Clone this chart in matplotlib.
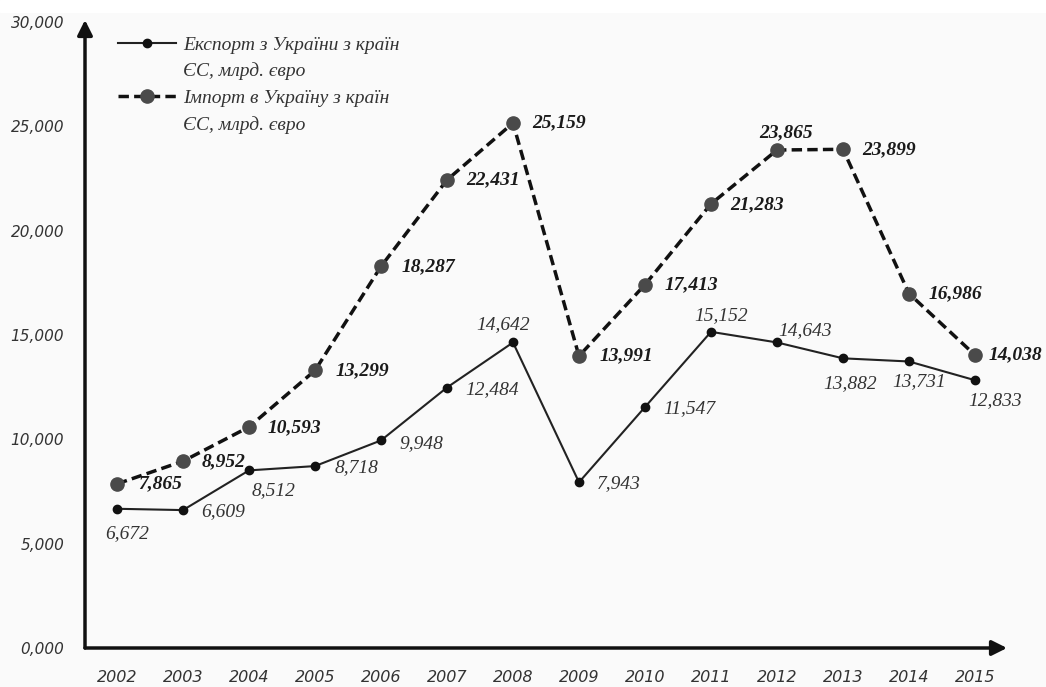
import matplotlib
matplotlib.use("Agg")
import matplotlib.pyplot as plt
from matplotlib.lines import Line2D
from matplotlib.patches import Rectangle

years = [2002, 2003, 2004, 2005, 2006, 2007, 2008, 2009, 2010, 2011, 2012, 2013, 2014, 2015]
export_eu = [6.672, 6.609, 8.512, 8.718, 9.948, 12.484, 14.642, 7.943, 11.547, 15.152, 14.643, 13.882, 13.731, 12.833]
import_eu = [7.865, 8.952, 10.593, 13.299, 18.287, 22.431, 25.159, 13.991, 17.413, 21.283, 23.865, 23.899, 16.986, 14.038]
y_ticks = [0, 5, 10, 15, 20, 25, 30]

label_export = "Експорт з України з країн"
label_import = "Імпорт в Україну з країн"
label_unit = "ЄС, млрд. євро"

# зсуви підписів у пікселях (dx, dy вниз)
off_export = [(10, 25), (40, 2), (25, 20), (42, 2), (40, 3), (45, 2), (-10, -18),
              (40, 1), (44, 2), (10, -16), (28, -12), (7, 25), (10, 20), (20, 20)]
off_import = [(43, 0), (41, 1), (45, 1), (47, 0), (47, 0), (46, 0), (46, 0),
              (47, 0), (46, 0), (46, 1), (9, -17), (46, 0), (46, 0), (40, 0)]


def fmt(v):
    return f"{v:.3f}".replace(".", ",")


fig = plt.figure(figsize=(10.46, 6.87), dpi=100, facecolor="#fafafa")
fig.patches.append(Rectangle((0, 1 - 12 / 687), 1, 12 / 687, transform=fig.transFigure,
                             color="white", zorder=0))
ax = fig.add_axes([85 / 1046, 39 / 687, 922 / 1046, 628 / 687])
ax.set_facecolor("none")

ax.plot(years, export_eu, color="#222222", lw=1.5, marker="o", ms=6,
        mfc="#111111", mec="#111111", zorder=3)
ax.plot(years, import_eu, color="#111111", lw=2.5, ls=(0, (3, 1.5)), marker="o", ms=9.5,
        mfc="#4a4a4a", mec="#4a4a4a", zorder=3)

for x, v, (dx, dy) in zip(years, export_eu, off_export):
    ax.annotate(fmt(v), (x, v), xytext=(dx, -dy), textcoords="offset pixels",
                ha="center", va="center", family="Liberation Serif", style="italic",
                fontsize=14, color="#333333")
for x, v, (dx, dy) in zip(years, import_eu, off_import):
    ax.annotate(fmt(v), (x, v), xytext=(dx, -dy), textcoords="offset pixels",
                ha="center", va="center", family="Liberation Serif", style="italic",
                weight="bold", fontsize=14, color="#1a1a1a")

ax.set_xlim(2002 - 32 / 66, 2002 + 890 / 66)
ax.set_ylim(0, 30.096)
ax.set_xticks(years)
ax.set_xticklabels([str(y) for y in years])
ax.set_yticks(y_ticks)
ax.set_yticklabels([fmt(t) for t in y_ticks])
ax.tick_params(length=0)
ax.tick_params(axis="y", pad=15)
ax.tick_params(axis="x", pad=16)
for lab in ax.get_yticklabels():
    lab.set_fontstyle("italic")
    lab.set_fontsize(11)
    lab.set_color("#333333")
for lab in ax.get_xticklabels():
    lab.set_fontstyle("italic")
    lab.set_fontsize(11.5)
    lab.set_color("#333333")

for s in ax.spines.values():
    s.set_visible(False)

arrow = dict(arrowstyle="-|>,head_length=0.6,head_width=0.3", lw=2.5, color="#111111",
             shrinkA=0, shrinkB=0, mutation_scale=15)
ax.annotate("", xy=(0, 1), xytext=(0, 0), xycoords="axes fraction", arrowprops=arrow,
            annotation_clip=False)
ax.annotate("", xy=(1, 0), xytext=(0, 0), xycoords="axes fraction", arrowprops=arrow,
            annotation_clip=False)

blank = Line2D([], [], color="none")
handles = [
    Line2D([], [], color="#222222", lw=1.5, marker="o", ms=6, mfc="#111111", mec="#111111"),
    blank,
    Line2D([], [], color="#111111", lw=2.5, ls=(0, (3, 1.5)), marker="o", ms=9.5,
           mfc="#4a4a4a", mec="#4a4a4a"),
    blank,
]
leg = ax.legend(handles, [label_export, label_unit, label_import, label_unit],
                loc="upper left", bbox_to_anchor=((118 - 85) / 922, (648 - 36) / 628),
                frameon=False, borderpad=0, borderaxespad=0, handlelength=3,
                handletextpad=0.35, labelspacing=0.46,
                prop=dict(family="Liberation Serif", style="italic", size=14))
for t in leg.get_texts():
    t.set_color("#333333")

fig.savefig("out.png", dpi=100, facecolor=fig.get_facecolor())
